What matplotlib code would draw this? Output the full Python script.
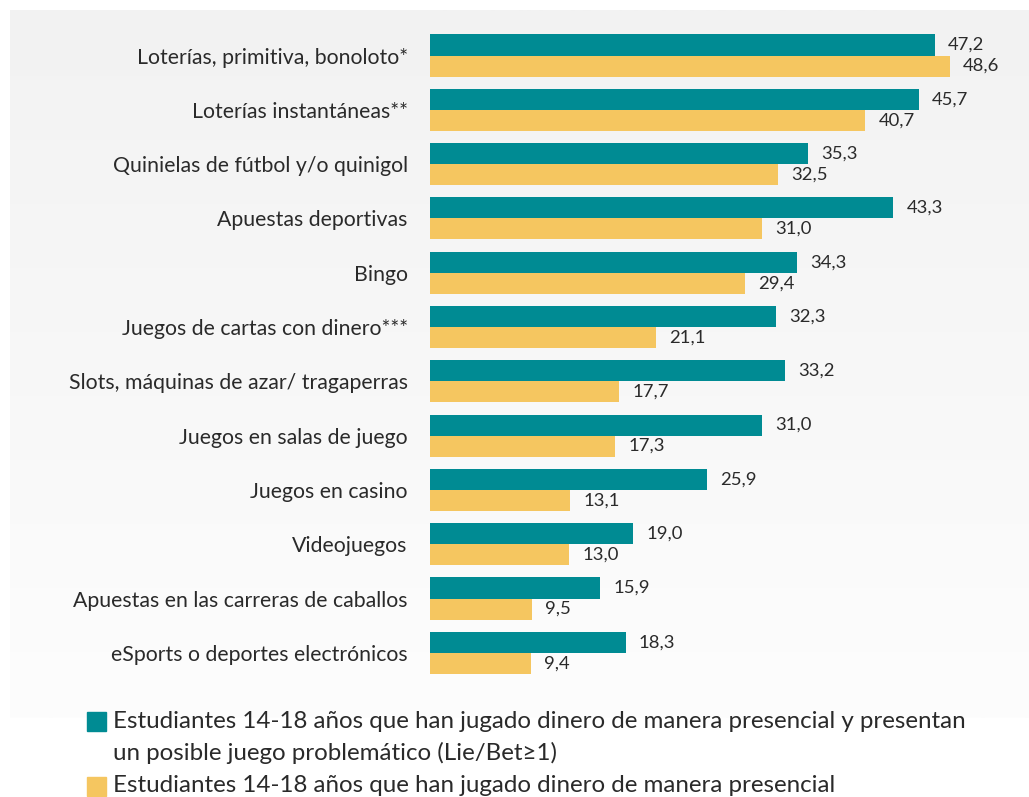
import matplotlib
matplotlib.use("Agg")
import matplotlib.pyplot as plt
import numpy as np
from matplotlib.patches import Rectangle
from matplotlib.colors import LinearSegmentedColormap

plt.rcParams['font.family'] = ['Lato', 'DejaVu Sans']

categories = [
    "Loterías, primitiva, bonoloto*",
    "Loterías instantáneas**",
    "Quinielas de fútbol y/o quinigol",
    "Apuestas deportivas",
    "Bingo",
    "Juegos de cartas con dinero***",
    "Slots, máquinas de azar/ tragaperras",
    "Juegos en salas de juego",
    "Juegos en casino",
    "Videojuegos",
    "Apuestas en las carreras de caballos",
    "eSports o deportes electrónicos",
]
problematic = [47.2, 45.7, 35.3, 43.3, 34.3, 32.3, 33.2, 31.0, 25.9, 19.0, 15.9, 18.3]
presencial = [48.6, 40.7, 32.5, 31.0, 29.4, 21.1, 17.7, 17.3, 13.1, 13.0, 9.5, 9.4]
legend_labels = [
    "Estudiantes 14-18 años que han jugado dinero de manera presencial y presentan\nun posible juego problemático (Lie/Bet≥1)",
    "Estudiantes 14-18 años que han jugado dinero de manera presencial",
]

TEAL = "#008b93"
YELLOW = "#f5c660"
TXT = "#2a2a2a"

W, H = 1029, 797
fig = plt.figure(figsize=(W / 100, H / 100), dpi=100)
fig.patch.set_facecolor("white")

def px(x0, y0, x1, y1):
    return [x0 / W, 1 - y1 / H, (x1 - x0) / W, (y1 - y0) / H]

# gradient background
bg = fig.add_axes(px(10, 10, W, 718), zorder=0)
grad = np.linspace(0, 1, 256).reshape(-1, 1)
cmap = LinearSegmentedColormap.from_list("g", ["#f2f2f2", "#fdfdfd"])
bg.imshow(grad, aspect="auto", cmap=cmap, extent=[0, 1, 1, 0])
bg.set_axis_off()

ax = fig.add_axes(px(430, 10, W, 700), zorder=1)
ax.patch.set_alpha(0)
n = len(categories)
y = np.arange(n)
h = 0.387
ax.barh(y - h / 2, problematic, height=h, color=TEAL)
ax.barh(y + h / 2, presencial, height=h, color=YELLOW)
ax.set_xlim(0, (W - 430) / 10.7)
ax.set_ylim(-0.838 + 690 / 54.3, -0.838)
for i in range(n):
    ax.annotate(f"{problematic[i]:.1f}".replace(".", ","), (problematic[i], y[i] - h / 2),
                xytext=(9.5, 0), textcoords="offset points", va="center", ha="left",
                fontsize=13.3, color=TXT)
    ax.annotate(f"{presencial[i]:.1f}".replace(".", ","), (presencial[i], y[i] + h / 2),
                xytext=(9.5, 0), textcoords="offset points", va="center", ha="left",
                fontsize=13.3, color=TXT)
    ax.annotate(categories[i], (0, y[i]), xytext=(-16, -1.5), textcoords="offset points",
                va="center", ha="right", fontsize=15.3, color=TXT, annotation_clip=False)
ax.set_axis_off()

# legend
fig.patches.append(Rectangle((87 / W, 1 - 731 / H), 19 / W, 19 / H, color=TEAL,
                             transform=fig.transFigure, figure=fig))
fig.patches.append(Rectangle((87 / W, 1 - 796 / H), 19 / W, 19 / H, color=YELLOW,
                             transform=fig.transFigure, figure=fig))
fs_leg = 17.4
fig.text(113 / W, 1 - 722 / H, legend_labels[0].split("\n")[0], fontsize=fs_leg,
         va="center", ha="left", color=TXT)
fig.text(113 / W, 1 - 753 / H, legend_labels[0].split("\n")[1], fontsize=fs_leg,
         va="center", ha="left", color=TXT)
fig.text(113 / W, 1 - 786 / H, legend_labels[1], fontsize=fs_leg,
         va="center", ha="left", color=TXT)

fig.savefig("out.png", dpi=100)
